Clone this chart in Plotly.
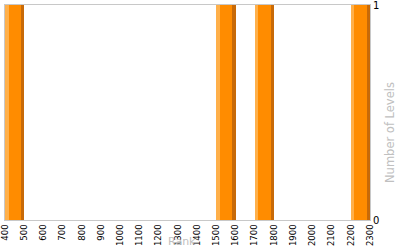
import plotly.graph_objects as go

# Data
rank_starts = [400, 1500, 1700, 2200]
bin_width = 100
level_counts = [1, 1, 1, 1]
x_ticks = list(range(400, 2301, 100))
y_ticks = [0, 1]

fig = go.Figure()

# Bars drawn as three layers to mimic the shaded look (light left, main, dark right)
fig.add_trace(go.Bar(x=rank_starts, y=level_counts, width=bin_width, offset=0,
                     marker=dict(color="#FFB04A", line=dict(width=0)), hoverinfo="skip"))
fig.add_trace(go.Bar(x=rank_starts, y=level_counts, width=bin_width * 0.64, offset=bin_width * 0.19,
                     marker=dict(color="#FF8C00", line=dict(width=0)), hoverinfo="skip"))
fig.add_trace(go.Bar(x=rank_starts, y=level_counts, width=bin_width * 0.17, offset=bin_width * 0.83,
                     marker=dict(color="#C86A08", line=dict(width=0)), hoverinfo="skip"))

fig.update_layout(
    width=400, height=250,
    margin=dict(l=5, r=30, t=5, b=30),
    paper_bgcolor="white", plot_bgcolor="white",
    showlegend=False, barmode="overlay", bargap=0,
    font=dict(family="DejaVu Sans", color="black"),
    xaxis=dict(range=[400, 2300], tickmode="array", tickvals=x_ticks,
               ticktext=[str(v) for v in x_ticks], tickangle=-90, automargin=False,
               ticklabeloverflow="allow", ticklabelstandoff=0,
               tickfont=dict(size=8.5, color="black"), showgrid=False, zeroline=False,
               showline=True, linecolor="#c8c8c8", linewidth=1, mirror=True, ticks=""),
    yaxis=dict(range=[0, 1], side="right", tickmode="array", tickvals=y_ticks, automargin=False,
               ticklabeloverflow="allow",
               tickfont=dict(size=10, color="black"), showgrid=False, zeroline=False,
               showline=True, linecolor="#c8c8c8", linewidth=1, mirror=True, ticks=""),
    annotations=[
        dict(text="Rank", xref="paper", yref="paper", x=0.485, y=-0.137,
             xanchor="center", yanchor="bottom", showarrow=False, borderpad=0,
             font=dict(size=11, color="#c0c0c0", family="DejaVu Sans")),
        dict(text="Number of Levels", xref="paper", yref="paper", x=1.055, y=0.405,
             xanchor="center", yanchor="middle", textangle=-90, showarrow=False,
             font=dict(size=11.5, color="#c0c0c0", family="DejaVu Sans")),
    ],
)

fig.write_html("out.html")
